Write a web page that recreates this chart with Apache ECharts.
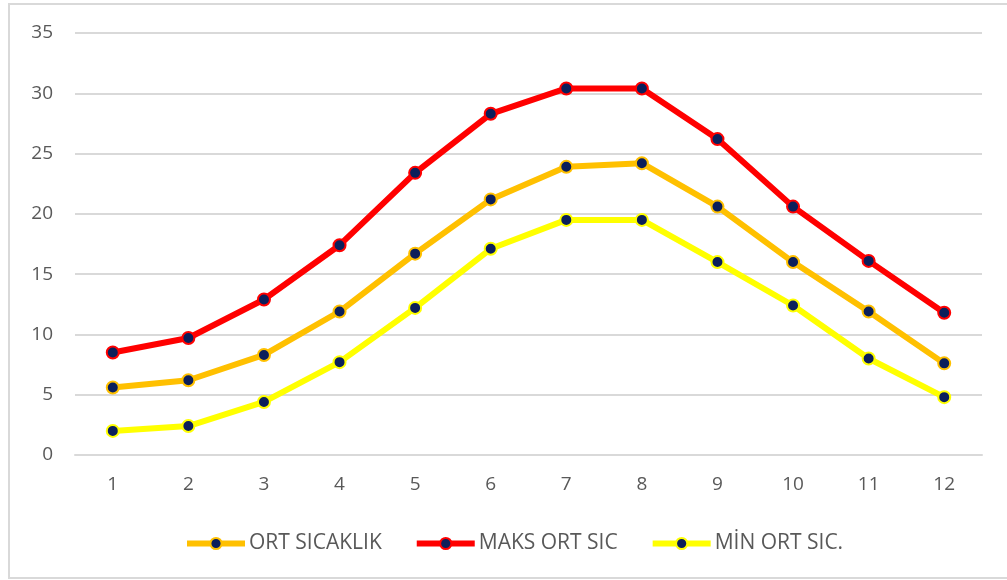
<!DOCTYPE html>
<html>
<head>
<meta charset="utf-8">
<script src="https://cdn.jsdelivr.net/npm/echarts@6/dist/echarts.min.js"></script>
<style>
  html, body { margin: 0; padding: 0; background: #ffffff; }
  #chart { width: 1007px; height: 580px; }
</style>
</head>
<body>
<div id="chart"></div>
<script>
// Monthly temperatures (°C)
const months = ['1', '2', '3', '4', '5', '6', '7', '8', '9', '10', '11', '12'];
const ortSicaklik = [5.6, 6.2, 8.3, 11.9, 16.7, 21.2, 23.9, 24.2, 20.6, 16.0, 11.9, 7.6];
const maksOrtSic = [8.5, 9.7, 12.9, 17.4, 23.4, 28.3, 30.4, 30.4, 26.2, 20.6, 16.1, 11.8];
const minOrtSic  = [2.0, 2.4, 4.4, 7.7, 12.2, 17.1, 19.5, 19.5, 16.0, 12.4, 8.0, 4.8];

const seriesNames = ['ORT SICAKLIK', 'MAKS ORT SIC', 'MİN ORT SIC.'];
const seriesColors = ['#FFC000', '#FF0000', '#FFFF00'];
const markerFill = '#0B1F5B';
const textColor = '#595959';
const fontFamily = 'Open Sans, Liberation Sans, sans-serif';

function lineSeries(name, data, color) {
  return {
    name: name,
    type: 'line',
    data: data,
    symbol: 'circle',
    symbolSize: 12,
    lineStyle: { color: color, width: 6 },
    itemStyle: { color: markerFill, borderColor: color, borderWidth: 2 },
    emphasis: { disabled: true },
    animation: false
  };
}

const chart = echarts.init(document.getElementById('chart'), null, { renderer: 'canvas' });
chart.setOption({
  backgroundColor: '#ffffff',
  animation: false,
  graphic: [{
    type: 'rect',
    shape: { x: 9, y: 4, width: 1010, height: 574 },
    style: { fill: 'none', stroke: '#D9D9D9', lineWidth: 2 },
    silent: true
  }],
  grid: { left: 75, right: 25, top: 33, bottom: 125, containLabel: false },
  legend: {
    top: 528,
    left: 179,
    itemWidth: 58,
    itemHeight: 14,
    itemGap: 32,
    lineStyle: { width: 6 },
    textStyle: { color: textColor, fontSize: 21, fontFamily: fontFamily, padding: [0, 0, 0, -1] },
    data: seriesNames
  },
  xAxis: {
    type: 'category',
    data: months,
    boundaryGap: true,
    axisLine: { show: true, lineStyle: { color: '#D9D9D9', width: 2 } },
    axisTick: { show: false },
    axisLabel: { color: textColor, fontSize: 19, fontFamily: fontFamily, margin: 20 }
  },
  yAxis: {
    type: 'value',
    min: 0,
    max: 35,
    interval: 5,
    axisLine: { show: false },
    axisTick: { show: false },
    axisLabel: { color: textColor, fontSize: 19, fontFamily: fontFamily, margin: 22 },
    splitLine: { lineStyle: { color: '#D9D9D9', width: 2 } }
  },
  series: [
    lineSeries(seriesNames[0], ortSicaklik, seriesColors[0]),
    lineSeries(seriesNames[1], maksOrtSic, seriesColors[1]),
    lineSeries(seriesNames[2], minOrtSic, seriesColors[2])
  ]
});
</script>
</body>
</html>
